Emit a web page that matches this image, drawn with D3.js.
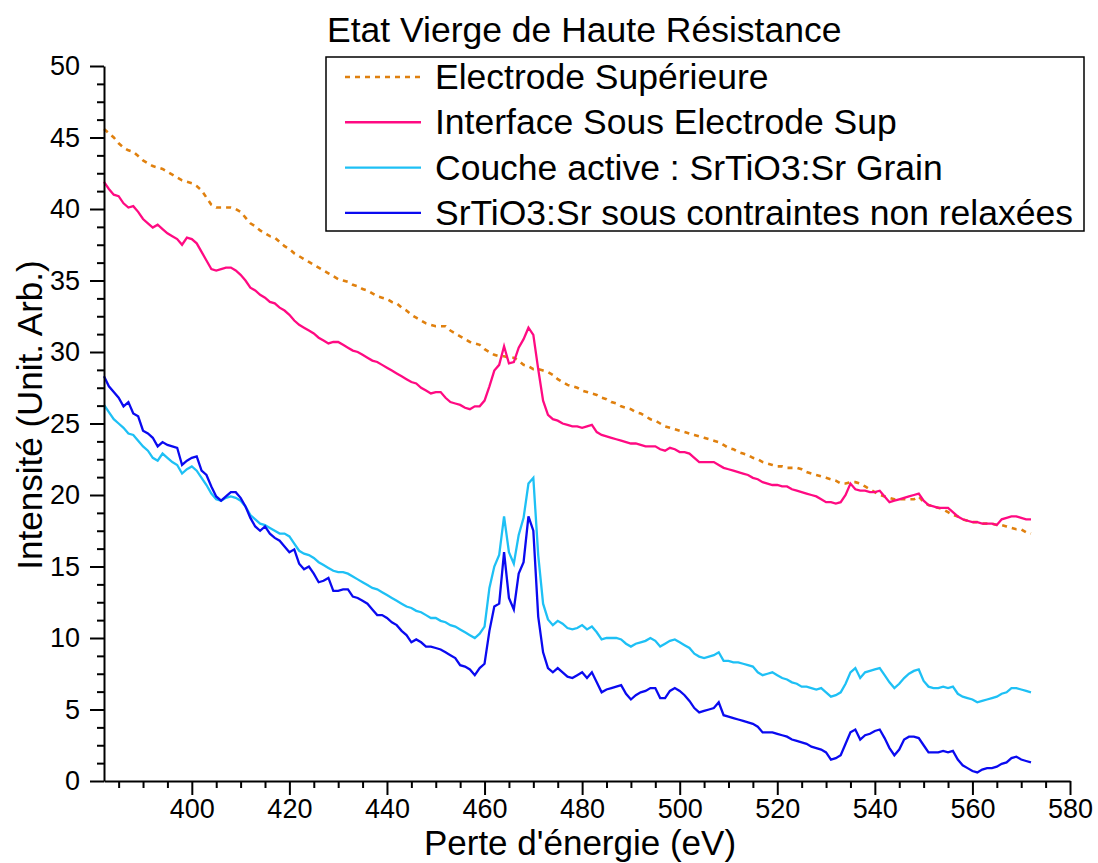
<!DOCTYPE html>
<html lang="fr">
<head>
<meta charset="utf-8">
<script src="https://cdn.jsdelivr.net/npm/d3@7"></script>
<style>
  html, body { margin: 0; padding: 0; background: #fff; }
  svg { display: block; font-family: "Liberation Sans", Arial, sans-serif; }
</style>
</head>
<body>
<svg id="chart" width="1098" height="863"></svg>
<script>
// EELS spectra, energy loss grid (eV)
const energies = [
  382,383,384,385,386,387,388,389,390,391,392,393,394,395,396,397,398,399,400,401,
  402,403,404,405,406,407,408,409,410,411,412,413,414,415,416,417,418,419,420,421,
  422,423,424,425,426,427,428,429,430,431,432,433,434,435,436,437,438,439,440,441,
  442,443,444,445,446,447,448,449,450,451,452,453,454,455,456,457,458,459,460,461,
  462,463,464,465,466,467,468,469,470,471,472,473,474,475,476,477,478,479,480,481,
  482,483,484,485,486,487,488,489,490,491,492,493,494,495,496,497,498,499,500,501,
  502,503,504,505,506,507,508,509,510,511,512,513,514,515,516,517,518,519,520,521,
  522,523,524,525,526,527,528,529,530,531,532,533,534,535,536,537,538,539,540,541,
  542,543,544,545,546,547,548,549,550,551,552,553,554,555,556,557,558,559,560,561,
  562,563,564,565,566,567,568,569,570,571,572
];

// Electrode Supérieure
const electrodeSup = [
  45.6,45.3,45.0,44.6,44.3,44.1,44.0,43.7,43.4,43.2,43.0,42.9,42.8,42.6,42.4,42.2,42.0,41.9,41.8,41.6,
  41.3,40.8,40.3,40.1,40.1,40.1,40.1,40.0,39.8,39.4,39.0,38.8,38.5,38.3,38.1,38.0,37.7,37.4,37.2,36.9,
  36.7,36.5,36.3,36.1,35.9,35.7,35.5,35.3,35.1,35.0,34.9,34.7,34.6,34.4,34.3,34.1,33.9,33.8,33.7,33.5,
  33.4,33.1,32.9,32.6,32.4,32.2,32.0,31.9,31.8,31.8,31.8,31.5,31.3,31.1,30.9,30.7,30.6,30.5,30.2,30.0,
  29.8,29.7,29.7,29.6,29.6,29.4,29.1,29.0,28.8,28.8,28.7,28.6,28.4,28.1,27.9,27.7,27.6,27.5,27.3,27.2,
  27.1,27.0,26.8,26.7,26.5,26.4,26.2,26.1,26.0,25.8,25.7,25.5,25.3,25.2,25.0,24.8,24.7,24.6,24.5,24.4,
  24.3,24.2,24.1,24.0,23.9,23.8,23.7,23.5,23.3,23.2,23.0,22.9,22.8,22.6,22.5,22.3,22.2,22.1,22.0,22.0,
  21.9,21.9,21.9,21.8,21.6,21.5,21.4,21.3,21.2,21.1,21.0,20.8,20.8,20.9,20.9,20.8,20.6,20.4,20.2,20.0,
  19.9,19.8,19.7,19.7,19.7,19.7,19.7,19.9,19.5,19.3,19.2,19.1,19.0,18.8,18.6,18.5,18.3,18.2,18.1,18.1,
  18.0,18.0,18.0,17.9,17.9,17.8,17.7,17.6,17.6,17.4,17.3
];

// Interface Sous Electrode Sup
const interfaceSous = [
  41.9,41.4,41.0,40.9,40.4,40.1,40.2,39.8,39.3,39.0,38.7,38.9,38.6,38.3,38.1,37.9,37.5,38.0,37.9,37.6,
  37.0,36.4,35.8,35.7,35.8,35.9,35.9,35.7,35.4,35.0,34.5,34.3,34.0,33.8,33.5,33.4,33.1,32.9,32.6,32.2,
  31.9,31.7,31.5,31.3,31.0,30.8,30.6,30.7,30.7,30.5,30.3,30.1,30.0,29.8,29.6,29.4,29.3,29.1,28.9,28.7,
  28.5,28.3,28.1,27.9,27.8,27.5,27.3,27.1,27.2,27.2,26.8,26.5,26.4,26.3,26.1,26.0,26.2,26.2,26.6,27.6,
  28.7,29.1,30.4,29.2,29.3,30.3,30.9,31.7,31.2,28.8,26.6,25.6,25.3,25.2,25.0,24.9,24.8,24.8,24.7,24.8,
  24.9,24.4,24.2,24.1,24.0,23.9,23.8,23.7,23.6,23.6,23.5,23.4,23.4,23.4,23.2,23.1,23.3,23.2,23.0,23.0,
  22.9,22.6,22.3,22.3,22.3,22.3,22.1,21.9,21.8,21.7,21.6,21.5,21.4,21.2,21.1,20.9,20.8,20.7,20.7,20.6,
  20.6,20.4,20.3,20.2,20.1,20.0,19.9,19.7,19.5,19.5,19.4,19.5,20.0,20.8,20.4,20.3,20.3,20.2,20.2,20.3,
  19.9,19.5,19.6,19.7,19.8,19.9,20.0,20.1,19.6,19.3,19.2,19.1,19.1,19.1,18.8,18.5,18.3,18.2,18.1,18.1,
  18.0,18.0,18.0,17.9,18.3,18.4,18.5,18.5,18.4,18.3,18.3
];

// Couche active : SrTiO3:Sr Grain
const coucheActive = [
  26.3,25.8,25.3,25.0,24.7,24.3,24.2,23.8,23.4,23.1,22.6,22.4,22.9,22.6,22.3,22.1,21.5,21.8,22.0,21.7,
  21.2,20.7,20.1,19.7,19.6,19.8,19.9,19.8,19.6,19.2,18.6,18.3,18.0,17.9,17.7,17.5,17.3,17.3,17.1,16.6,
  16.1,15.9,15.8,15.6,15.3,15.1,14.9,14.7,14.6,14.6,14.5,14.3,14.1,13.9,13.7,13.5,13.4,13.2,13.0,12.8,
  12.6,12.4,12.2,12.1,11.9,11.8,11.6,11.4,11.4,11.2,11.1,10.9,10.8,10.6,10.4,10.2,10.0,10.3,10.8,13.5,
  15.0,15.8,18.5,16.0,15.2,17.2,18.4,20.8,21.2,15.8,12.4,11.3,10.9,11.2,11.0,10.7,10.6,10.7,10.9,10.6,
  10.8,10.4,9.9,10.0,10.0,10.0,9.9,9.6,9.4,9.6,9.7,9.8,10.0,9.8,9.4,9.6,9.8,9.9,9.7,9.5,
  9.3,8.9,8.7,8.6,8.7,8.8,9.0,8.4,8.4,8.3,8.3,8.2,8.1,8.0,7.6,7.4,7.5,7.6,7.4,7.2,
  7.1,6.9,6.8,6.6,6.6,6.5,6.4,6.5,6.2,5.9,6.0,6.2,6.8,7.6,7.9,7.2,7.6,7.7,7.8,7.9,
  7.4,6.9,6.5,6.8,7.2,7.5,7.7,7.8,7.0,6.6,6.5,6.5,6.6,6.5,6.6,6.1,5.9,5.8,5.7,5.5,
  5.6,5.7,5.8,5.9,6.1,6.2,6.5,6.5,6.4,6.3,6.2
];

// SrTiO3:Sr sous contraintes non relaxées
const nonRelaxees = [
  28.3,27.6,27.2,26.8,26.2,26.5,25.7,25.5,24.5,24.3,24.0,23.4,23.7,23.5,23.4,23.3,22.1,22.4,22.6,22.7,
  21.7,21.4,20.6,19.9,19.6,19.9,20.2,20.2,19.8,19.2,18.4,17.8,17.5,17.8,17.3,17.0,16.8,16.4,16.0,16.2,
  15.2,14.8,15.0,14.5,13.9,14.0,14.2,13.3,13.3,13.4,13.4,12.9,12.8,12.6,12.4,12.0,11.6,11.6,11.4,11.1,
  10.9,10.5,10.2,9.7,9.9,9.7,9.4,9.4,9.3,9.2,9.0,8.8,8.6,8.1,8.0,7.8,7.4,7.9,8.2,10.5,
  12.2,12.4,16.0,12.8,12.0,14.5,15.3,18.5,17.5,11.5,9.0,7.9,7.6,7.9,7.6,7.3,7.2,7.4,7.6,7.2,
  7.6,6.9,6.2,6.4,6.5,6.6,6.7,6.1,5.7,6.0,6.2,6.3,6.5,6.5,5.8,5.8,6.3,6.5,6.3,6.0,
  5.6,5.1,4.8,4.9,5.0,5.1,5.5,4.6,4.5,4.4,4.3,4.2,4.1,4.0,3.8,3.4,3.4,3.4,3.3,3.2,
  3.1,2.9,2.8,2.7,2.6,2.4,2.3,2.2,2.0,1.5,1.6,1.8,2.6,3.4,3.6,2.9,3.2,3.3,3.5,3.6,
  3.0,2.3,1.8,2.2,2.9,3.1,3.1,3.0,2.5,2.0,2.0,2.0,2.1,2.0,2.1,1.5,1.1,0.9,0.7,0.6,
  0.8,0.9,0.9,1.0,1.2,1.3,1.6,1.7,1.5,1.4,1.3
];

const seriesNames = [
  "Electrode Supérieure",
  "Interface Sous Electrode Sup",
  "Couche active : SrTiO3:Sr Grain",
  "SrTiO3:Sr sous contraintes non relaxées"
];
const seriesValues = [electrodeSup, interfaceSous, coucheActive, nonRelaxees];
const seriesColors = ["#e0800e", "#ff0a82", "#1ec0f5", "#0a0af0"];
const seriesDash = ["5,5", null, null, null];

const xTicks = [400, 420, 440, 460, 480, 500, 520, 540, 560, 580];
const yTicks = [0, 5, 10, 15, 20, 25, 30, 35, 40, 45, 50];

const chartTitle = "Etat Vierge de Haute Résistance";
const xTitle = "Perte d'énergie (eV)";
const yTitle = "Intensité (Unit. Arb.)";

// Layout
const svg = d3.select("#chart");
const plot = { left: 104, right: 1070, top: 66, bottom: 781 };

const x = d3.scaleLinear().domain([382, 580]).range([plot.left, plot.right]);
const y = d3.scaleLinear().domain([0, 50]).range([plot.bottom, plot.top]);

// Minor ticks: every 5 eV on x, every 1.25 on y
const xMinor = d3.range(385, 581, 5).filter(v => v % 20 !== 0);
const yMinor = d3.range(0, 50.01, 1.25).filter(v => v % 5 !== 0);

const axisStyle = g => {
  g.selectAll("path.domain").attr("stroke", "#000").attr("stroke-width", 2);
  g.selectAll(".tick line").attr("stroke", "#000").attr("stroke-width", 2);
  g.selectAll(".tick text").attr("fill", "#000")
    .style("font-family", "'Liberation Sans', Arial, sans-serif");
};

// Series lines
const line = d3.line().x(d => x(d[0])).y(d => y(d[1]));
const linesG = svg.append("g");
seriesValues.forEach((vals, i) => {
  linesG.append("path")
    .datum(energies.map((e, k) => [e, vals[k]]))
    .attr("fill", "none")
    .attr("stroke", seriesColors[i])
    .attr("stroke-width", i === 0 ? 2.6 : 2.3)
    .attr("stroke-linejoin", "miter")
    .attr("stroke-dasharray", seriesDash[i])
    .attr("d", line);
});

// X axis
svg.append("g")
  .attr("transform", `translate(0,${plot.bottom})`)
  .call(d3.axisBottom(x).tickValues(xMinor).tickSize(7).tickFormat("").tickSizeOuter(0))
  .call(g => g.select("path.domain").remove())
  .call(axisStyle);
svg.append("g")
  .attr("transform", `translate(0,${plot.bottom})`)
  .call(d3.axisBottom(x).tickValues(xTicks).tickSize(14).tickPadding(4).tickSizeOuter(0))
  .call(axisStyle)
  .call(g => g.selectAll(".tick text").style("font-size", "27px"));

// Y axis
svg.append("g")
  .attr("transform", `translate(${plot.left},0)`)
  .call(d3.axisLeft(y).tickValues(yMinor).tickSize(7).tickFormat("").tickSizeOuter(0))
  .call(g => g.select("path.domain").remove())
  .call(axisStyle);
svg.append("g")
  .attr("transform", `translate(${plot.left},0)`)
  .call(d3.axisLeft(y).tickValues(yTicks).tickSize(14).tickPadding(10).tickSizeOuter(0))
  .call(axisStyle)
  .call(g => g.selectAll(".tick text").style("font-size", "27px"));

// Axis titles
svg.append("text")
  .attr("x", 580).attr("y", 855)
  .attr("text-anchor", "middle")
  .style("font-size", "35px")
  .text(xTitle);
svg.append("text")
  .attr("transform", `translate(42,415) rotate(-90)`)
  .attr("text-anchor", "middle")
  .style("font-size", "35px")
  .text(yTitle);

// Title
svg.append("text")
  .attr("x", 327).attr("y", 42)
  .style("font-size", "35.5px")
  .text(chartTitle);

// Legend
const legend = svg.append("g");
legend.append("rect")
  .attr("x", 326).attr("y", 57)
  .attr("width", 758).attr("height", 174)
  .attr("fill", "#fff").attr("stroke", "#000").attr("stroke-width", 1.5);
seriesNames.forEach((name, i) => {
  const cy = 77 + i * 45.3;
  legend.append("line")
    .attr("x1", 345).attr("x2", 421)
    .attr("y1", cy).attr("y2", cy)
    .attr("stroke", seriesColors[i])
    .attr("stroke-width", i === 0 ? 2.6 : 2.4)
    .attr("stroke-dasharray", seriesDash[i]);
  legend.append("text")
    .attr("x", 435).attr("y", cy + 12)
    .style("font-size", "35.5px")
    .text(name);
});
</script>
</body>
</html>
